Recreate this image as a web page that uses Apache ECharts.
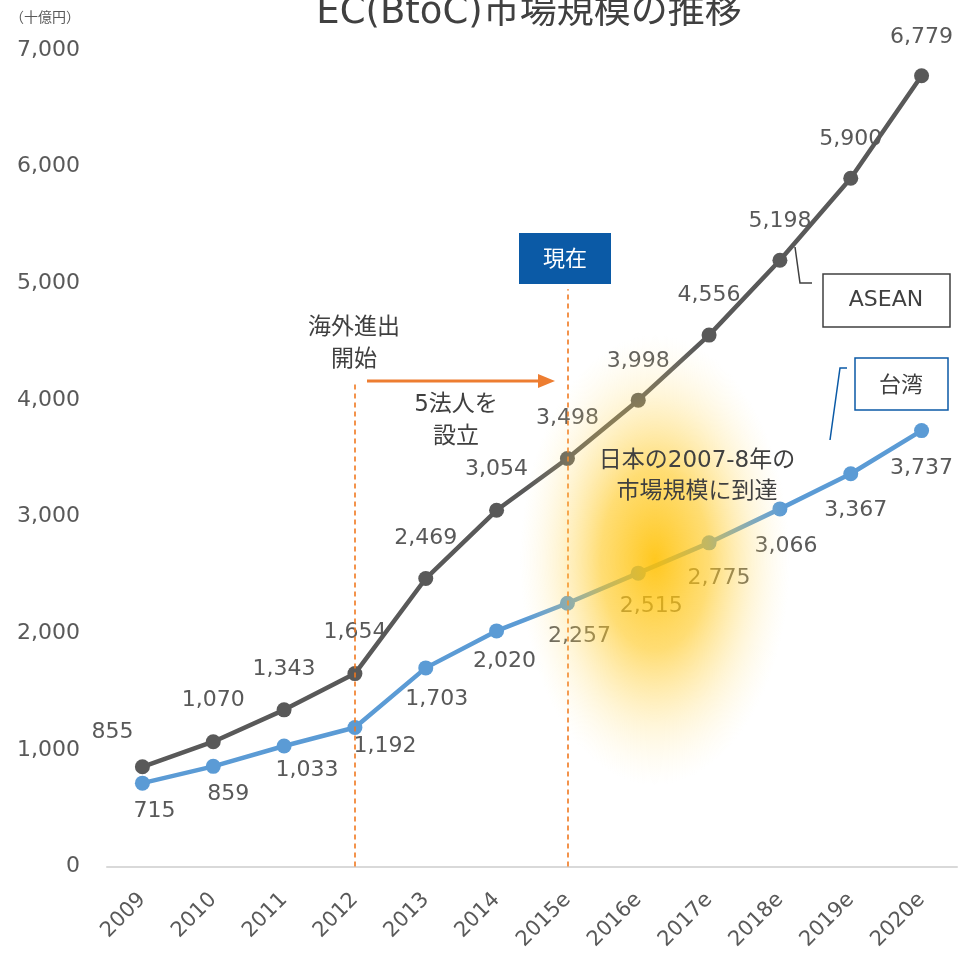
<!DOCTYPE html>
<html><head><meta charset="utf-8">
<script src="https://cdn.jsdelivr.net/npm/echarts@6/dist/echarts.min.js"></script>
<style>html,body{margin:0;padding:0;background:#fff}#c{width:959px;height:953px}</style>
</head><body><div id="c"></div>
<script>
const categories = ['2009','2010','2011','2012','2013','2014','2015e','2016e','2017e','2018e','2019e','2020e'];
const aseanValues = [855, 1070, 1343, 1654, 2469, 3054, 3498, 3998, 4556, 5198, 5900, 6779];
const taiwanValues = [715, 859, 1033, 1192, 1703, 2020, 2257, 2515, 2775, 3066, 3367, 3737];
const yTicks = [0, 1000, 2000, 3000, 4000, 5000, 6000, 7000];
const aseanLabelOffsets = [[-30,-35],[0,-41],[0,-41],[0,-41],[0,-40],[0,-41],[0,-40],[0,-39],[0,-40],[0,-39],[0,-39],[0,-38]];
const taiwanLabelOffsets = [[12,28],[15,28],[23,24],[30,19],[11,31],[8,30],[12,33],[13,33],[10,35],[6,37],[5,37],[0,38]];

const FONT = '"DejaVu Sans", "Noto Sans CJK JP", sans-serif';
const JFONT = '"Noto Sans CJK JP", sans-serif';
const chart = echarts.init(document.getElementById('c'));

function mkData(vals, offs) {
  return vals.map((v, i) => ({ value: v, label: { offset: offs[i] } }));
}

const option = {
  animation: false,
  title: {
    text: 'EC(BtoC)市場規模の推移',
    left: 524, textAlign: 'center', top: -10,
    textStyle: { fontFamily: FONT, fontSize: 37, fontWeight: 'normal', color: '#404040' }
  },
  grid: { left: 107, right: 2, top: 50, bottom: 85, containLabel: false },
  xAxis: {
    type: 'category', data: categories, boundaryGap: true,
    axisLine: { lineStyle: { color: '#D9D9D9', width: 2 } },
    axisTick: { show: false },
    axisLabel: { rotate: 45, margin: 30, color: '#595959', fontSize: 21, fontFamily: FONT }
  },
  yAxis: {
    type: 'value', min: yTicks[0], max: yTicks[yTicks.length - 1], interval: 1000,
    splitLine: { show: false }, axisLine: { show: false }, axisTick: { show: false },
    axisLabel: { margin: 27, color: '#595959', fontSize: 22, fontFamily: FONT,
      formatter: v => v.toLocaleString('en-US') }
  },
  series: [
    {
      name: 'ASEAN', type: 'line', data: mkData(aseanValues, aseanLabelOffsets),
      symbol: 'circle', symbolSize: 15,
      lineStyle: { color: '#595959', width: 4.5 }, itemStyle: { color: '#595959' },
      label: { show: true, position: 'inside', color: '#595959', fontSize: 22, fontFamily: FONT,
        formatter: p => p.value.toLocaleString('en-US') },
      markLine: {
        silent: true, symbol: 'none', label: { show: false }, z: 5,
        emphasis: { disabled: true },
        lineStyle: { color: '#F07820', type: [5, 4], width: 1.6, opacity: 1 },
        data: [
          [{ coord: ['2012', 0] }, { coord: ['2012', 4140] }],
          [{ coord: ['2015e', 0] }, { coord: ['2015e', 4950] }]
        ]
      }
    },
    {
      name: '台湾', type: 'line', data: mkData(taiwanValues, taiwanLabelOffsets),
      symbol: 'circle', symbolSize: 15,
      lineStyle: { color: '#5B9BD5', width: 4.5 }, itemStyle: { color: '#5B9BD5' },
      label: { show: true, position: 'inside', color: '#595959', fontSize: 22, fontFamily: FONT,
        formatter: p => p.value.toLocaleString('en-US') }
    }
  ],
  graphic: [
    { type: 'text', left: 10, top: 10, style: { text: '（十億円）', fill: '#595959', font: '14px ' + JFONT } },
    // glow
    { type: 'circle', x: 655, y: 560, scaleX: 0.6, scaleY: 1, z: 50, silent: true,
      shape: { cx: 0, cy: 0, r: 225 },
      style: { fill: new echarts.graphic.RadialGradient(0.5, 0.5, 0.5, [
        { offset: 0, color: 'rgba(255,192,0,0.88)' },
        { offset: 0.4, color: 'rgba(255,200,30,0.62)' },
        { offset: 0.72, color: 'rgba(255,215,90,0.25)' },
        { offset: 1, color: 'rgba(255,235,170,0)' }]) } },
    // 現在 box
    { type: 'rect', z: 60, shape: { x: 519, y: 233, width: 92, height: 51 }, style: { fill: '#0B5AA6' } },
    { type: 'text', z: 61, x: 565, y: 258, style: { text: '現在', fill: '#fff', font: '22px ' + JFONT, align: 'center', verticalAlign: 'middle' } },
    // annotations
    { type: 'text', z: 61, x: 354, y: 341, style: { text: '海外進出\n開始', fill: '#404040', font: '23px ' + JFONT, lineHeight: 32, align: 'center', verticalAlign: 'middle' } },
    { type: 'text', z: 61, x: 456, y: 421, style: { text: '5法人を\n設立', fill: '#404040', font: '23px ' + FONT, lineHeight: 32, align: 'center', verticalAlign: 'middle' } },
    { type: 'text', z: 61, x: 697, y: 477, style: { text: '日本の2007-8年の\n市場規模に到達', fill: '#404040', font: '23px ' + FONT, lineHeight: 31, align: 'center', verticalAlign: 'middle' } },
    // arrow
    { type: 'line', z: 60, shape: { x1: 367, y1: 381, x2: 540, y2: 381 }, style: { stroke: '#ED7D31', lineWidth: 3 } },
    { type: 'polygon', z: 60, shape: { points: [[538, 374], [555, 381], [538, 388]] }, style: { fill: '#ED7D31' } },
    // ASEAN box
    { type: 'polyline', z: 60, shape: { points: [[795, 247], [800, 283], [812, 283]] }, style: { stroke: '#404040', lineWidth: 1.5, fill: null } },
    { type: 'rect', z: 60, shape: { x: 823, y: 274, width: 127, height: 53 }, style: { fill: '#fff', stroke: '#404040', lineWidth: 1.5 } },
    { type: 'text', z: 61, x: 886, y: 300, style: { text: 'ASEAN', fill: '#404040', font: '22px ' + FONT, align: 'center', verticalAlign: 'middle' } },
    // 台湾 box
    { type: 'polyline', z: 60, shape: { points: [[830, 440], [840, 368], [847, 368]] }, style: { stroke: '#0B5AA6', lineWidth: 1.5, fill: null } },
    { type: 'rect', z: 60, shape: { x: 855, y: 358, width: 93, height: 52 }, style: { fill: '#fff', stroke: '#0B5AA6', lineWidth: 1.5 } },
    { type: 'text', z: 61, x: 901, y: 384, style: { text: '台湾', fill: '#404040', font: '22px ' + JFONT, align: 'center', verticalAlign: 'middle' } }
  ]
};
chart.setOption(option);
</script></body></html>
